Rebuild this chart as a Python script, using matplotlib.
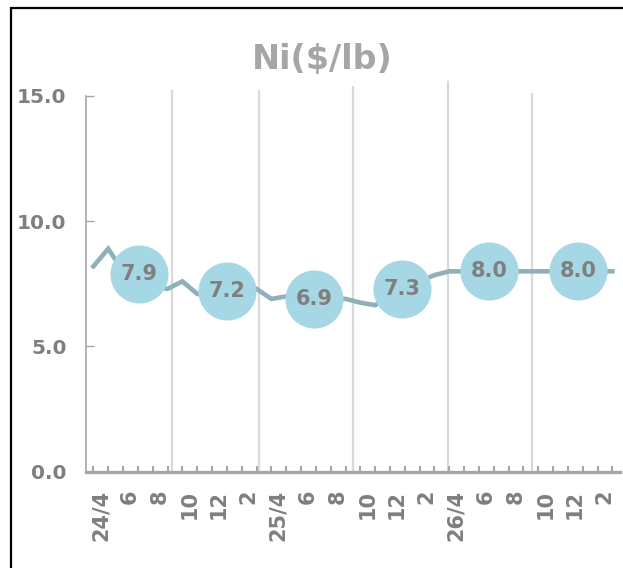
import matplotlib.pyplot as plt
from matplotlib.patches import Rectangle
from matplotlib.transforms import ScaledTranslation

# monthly Ni price, Apr 2024 - Mar 2027 ($/lb)
monthly = [8.2, 8.9, 8.0, 7.6, 7.4, 7.3,
           7.6, 7.1, 7.0, 6.9, 6.9, 7.3,
           6.9, 7.0, 6.9, 6.8, 6.9, 6.9,
           6.75, 6.65, 7.0, 7.3, 7.6, 7.85,
           8.0, 8.0, 8.0, 8.0, 8.0, 8.0,
           8.0, 8.0, 8.0, 8.0, 8.0, 8.0]

# half-year averages and where they sit on the month axis
half_pos = [3.1, 9.0, 14.9, 20.8, 26.7, 32.7]
half_avg = [7.9, 7.2, 6.9, 7.3, 8.0, 8.0]

xlabels = ['24/4', '6', '8', '10', '12', '2',
           '25/4', '6', '8', '10', '12', '2',
           '26/4', '6', '8', '10', '12', '2']

grey = '#7F7F7F'

fig = plt.figure(figsize=(6.23, 5.68), dpi=100)
ax = fig.add_axes([0.138, 0.1695, 0.857, 0.6615])

months = list(range(len(monthly)))
ax.plot(months, monthly, color='#8FB0B8', lw=3.3, zorder=2, solid_joinstyle='miter')

ax.scatter(half_pos, half_avg, s=1750, color='#A6D7E5', zorder=3, linewidths=0)
for x, v in zip(half_pos, half_avg):
    ax.text(x, v, f'{v:.1f}', ha='center', va='center', fontsize=15,
            fontweight='bold', color=grey, zorder=4)

# separator lines
for gx, top in zip([5.3, 11.2, 17.5, 23.9, 29.6], [15.19, 15.19, 15.35, 15.55, 15.07]):
    ax.plot([gx, gx], [0, top], color='#D9D9D9', lw=1.6, zorder=1, clip_on=False)

ax.set_xlim(-0.5, 35.5)
ax.set_ylim(0, 15)
ax.set_yticks([0, 5, 10, 15])
ax.set_yticklabels(['0.0', '5.0', '10.0', '15.0'])
ax.set_xticks(range(0, 36, 2))
ax.set_xticklabels(xlabels, rotation=90)
ax.set_xticks(range(36), minor=True)

for s in ['top', 'right']:
    ax.spines[s].set_visible(False)
ax.spines['left'].set_color('#A6A6A6')
ax.spines['left'].set_linewidth(1.2)
ax.spines['bottom'].set_color('#A6A6A6')
ax.spines['bottom'].set_linewidth(2.4)

ax.tick_params(axis='y', direction='in', length=6, width=1, color='#A6A6A6',
               labelsize=14.5, labelcolor=grey, pad=14)
ax.tick_params(axis='x', which='both', direction='in', length=4, width=1.5,
               color='#A6A6A6', labelsize=15, labelcolor=grey, pad=13)
for lab in ax.get_yticklabels() + ax.get_xticklabels():
    lab.set_fontweight('bold')
for lab in ax.get_xticklabels():
    lab.set_transform(lab.get_transform() + ScaledTranslation(0.07, 0, fig.dpi_scale_trans))

fig.text(0.517, 0.896, 'Ni($/lb)', ha='center', va='center', fontsize=24,
         fontweight='bold', color='#A6A6A6')

fig.patches.append(Rectangle((11 / 623, -0.05), 1.1, 1.036, transform=fig.transFigure,
                             fill=False, edgecolor='black', lw=1.6))

plt.savefig('out.png', dpi=100)
